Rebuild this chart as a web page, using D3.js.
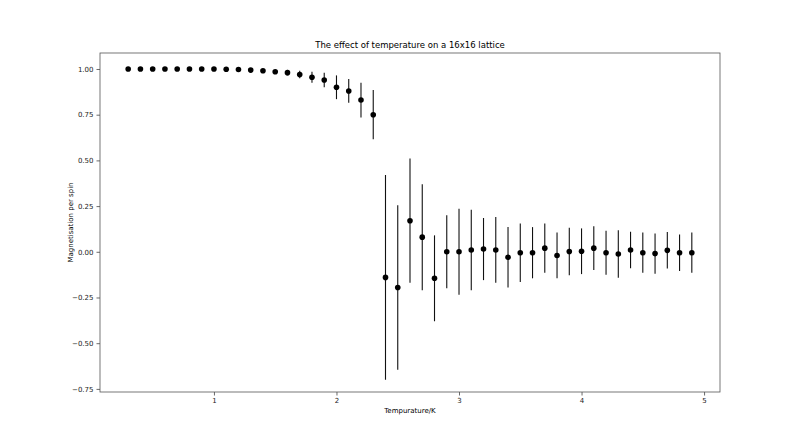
<!DOCTYPE html>
<html>
<head>
<meta charset="utf-8">
<script src="https://cdn.jsdelivr.net/npm/d3@7"></script>
<style>
  body { margin: 0; background: #fff; }
  text { font-family: "DejaVu Sans", sans-serif; }
</style>
</head>
<body>
<svg id="chart" width="800" height="441"></svg>
<script>
// temperatures 0.3 .. 4.9
const temps = [0.3,0.4,0.5,0.6,0.7,0.8,0.9,1.0,1.1,1.2,1.3,1.4,1.5,1.6,1.7,1.8,1.9,2.0,2.1,2.2,2.3,
  2.4,2.5,2.6,2.7,2.8,2.9,3.0,3.1,3.2,3.3,3.4,3.5,3.6,3.7,3.8,3.9,4.0,4.1,4.2,4.3,4.4,4.5,4.6,4.7,4.8,4.9]
const magnet = [1.0,1.0,1.0,1.0,1.0,1.0,1.0,1.0,0.999,0.997,0.994,0.99,0.985,0.98,0.97,0.955,0.94,0.90,0.88,0.83,0.75,
  -0.14,-0.195,0.17,0.08,-0.145,0.0,0.0,0.01,0.015,0.01,-0.03,-0.005,-0.005,0.02,-0.02,0.002,0.003,0.02,-0.005,-0.012,0.01,-0.005,-0.01,0.008,-0.005,-0.005]
const errs = [0,0,0,0,0,0,0,0.001,0.002,0.003,0.004,0.006,0.01,0.015,0.02,0.03,0.04,0.065,0.065,0.095,0.135,
  0.56,0.45,0.34,0.29,0.235,0.2,0.235,0.22,0.17,0.18,0.165,0.16,0.14,0.135,0.125,0.13,0.125,0.12,0.12,0.13,0.1,0.11,0.11,0.1,0.1,0.11]
const xTicks = [1,2,3,4,5]
const yTicks = [-0.75,-0.5,-0.25,0,0.25,0.5,0.75,1.0]

const svg = d3.select("#chart")
const mLeft = 100, mRight = 720, mTop = 53, mBottom = 392

const x = d3.scaleLinear().domain([0.07, 5.13]).range([mLeft, mRight])
const y = d3.scaleLinear().domain([-0.767, 1.0875]).range([mBottom, mTop])

const data = temps.map((t, i) => ({t: t, m: magnet[i], e: errs[i]}))

svg.append("g")
  .attr("transform", "translate(0," + mBottom + ")")
  .call(d3.axisBottom(x).tickValues(xTicks).tickSize(3.5).tickPadding(3).tickFormat(d3.format("d")))
svg.append("g")
  .attr("transform", "translate(" + mLeft + ",0)")
  .call(d3.axisLeft(y).tickValues(yTicks).tickSize(3.5).tickPadding(3).tickFormat(d3.format(".2f")))
svg.selectAll(".domain").remove()
svg.selectAll(".tick text").attr("font-size", 7).attr("fill", "#222")
svg.selectAll(".tick line").attr("stroke", "#444").attr("stroke-width", 0.8)

svg.append("rect")
  .attr("x", mLeft).attr("y", mTop)
  .attr("width", mRight - mLeft).attr("height", mBottom - mTop)
  .attr("fill", "none").attr("stroke", "#555").attr("stroke-width", 0.8)

svg.selectAll("line.err").data(data).enter().append("line")
  .attr("class", "err")
  .attr("x1", d => x(d.t)).attr("x2", d => x(d.t))
  .attr("y1", d => y(d.m - d.e)).attr("y2", d => y(d.m + d.e))
  .attr("stroke", "#111").attr("stroke-width", 1.1)

svg.selectAll("circle").data(data).enter().append("circle")
  .attr("cx", d => x(d.t)).attr("cy", d => y(d.m))
  .attr("r", 2.8).attr("fill", "#000")

svg.append("text").attr("x", (mLeft + mRight) / 2).attr("y", mTop - 5)
  .attr("text-anchor", "middle").attr("font-size", 8.5)
  .text("The effect of temperature on a 16x16 lattice")
svg.append("text").attr("x", (mLeft + mRight) / 2).attr("y", 413)
  .attr("text-anchor", "middle").attr("font-size", 7)
  .text("Tempurature/K")
svg.append("text")
  .attr("transform", "translate(73," + ((mTop + mBottom) / 2) + ") rotate(-90)")
  .attr("text-anchor", "middle").attr("font-size", 7)
  .text("Magnetisation per spin")
</script>
</body>
</html>
